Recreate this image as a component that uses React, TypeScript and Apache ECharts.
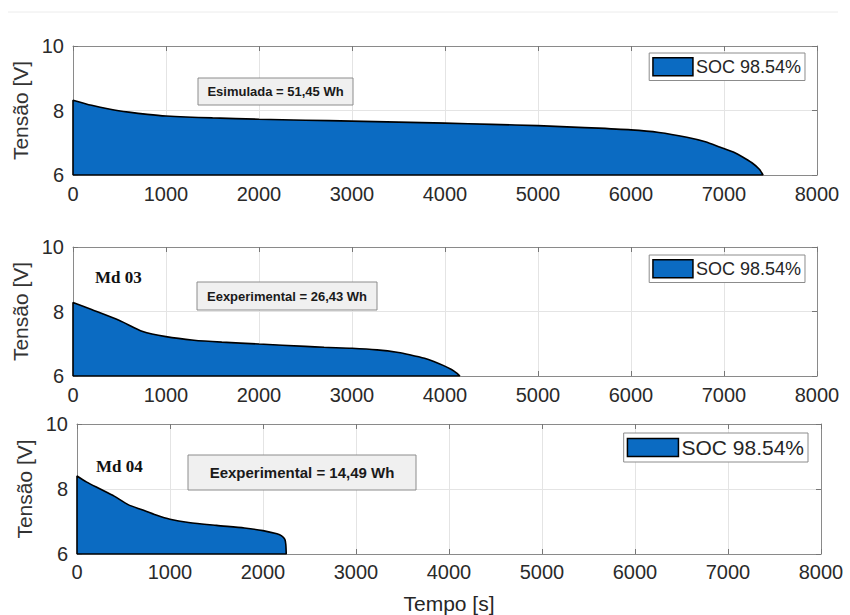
import React, { useEffect, useRef } from "react";
import * as echarts from "echarts";

const LEGEND_NAME = "SOC 98.54%";
const Y_NAME = "Tensão [V]";
const X_NAME = "Tempo [s]";

// Panel 1 – simulated discharge
const sim1X = [0, 0, 200, 400, 600, 800, 1000, 1500, 2000, 2500, 3000, 3500, 4000, 4500, 5000, 5500, 6000, 6300, 6600, 6800, 6960, 7100, 7200, 7300, 7380, 7420, 0];
const sim1Y = [6, 8.32, 8.16, 8.04, 7.95, 7.88, 7.83, 7.77, 7.73, 7.7, 7.67, 7.64, 7.61, 7.57, 7.53, 7.47, 7.4, 7.32, 7.17, 7.03, 6.86, 6.71, 6.56, 6.38, 6.18, 6.0, 6];

// Panel 2 – Md 03
const md03X = [0, 0, 200, 500, 750, 1000, 1300, 1600, 2000, 2500, 2700, 3000, 3270, 3500, 3620, 3780, 3880, 3980, 4070, 4130, 4160, 0];
const md03Y = [6, 8.28, 8.06, 7.72, 7.38, 7.22, 7.11, 7.05, 6.99, 6.92, 6.89, 6.86, 6.81, 6.73, 6.66, 6.55, 6.45, 6.33, 6.2, 6.08, 6.0, 6];

// Panel 3 – Md 04
const md04X = [0, 0, 100, 250, 400, 550, 700, 850, 1000, 1200, 1500, 1800, 2000, 2150, 2200, 2235, 2245, 2250, 0];
const md04Y = [6, 8.4, 8.22, 8.0, 7.78, 7.52, 7.36, 7.2, 7.07, 6.97, 6.88, 6.8, 6.72, 6.62, 6.56, 6.45, 6.3, 6.0, 6];

const annotations = ["Esimulada = 51,45 Wh", "Eexperimental = 26,43 Wh", "Eexperimental = 14,49 Wh"];
const panelLabels = ["", "Md 03", "Md 04"];

const X_MIN = 0, X_MAX = 8000, X_STEP = 1000;
const Y_MIN = 6, Y_MAX = 10, Y_STEP = 2;

const FILL = "#0b6bc2";
const FONT = "Liberation Sans, Arial, sans-serif";

const zip = (xs: number[], ys: number[]) => xs.map((x, i) => [x, ys[i]]);

export default function App() {
  const ref = useRef<HTMLDivElement>(null);
  useEffect(() => {
    if (!ref.current) return;
    const chart = echarts.init(ref.current, null, { renderer: "svg" });

    const grids = [
      { left: 73, right: 33, top: 46, height: 129 },
      { left: 73, right: 33, top: 247, height: 129 },
      { left: 77, right: 29, top: 424, height: 130 },
    ];
    const datasets = [zip(sim1X, sim1Y), zip(md03X, md03Y), zip(md04X, md04Y)];

    const axisLineStyle = { lineStyle: { color: "#8a8a8a", width: 1 } };
    const tickStyle = { inside: true, length: 5, lineStyle: { color: "#777" } };
    const labelStyle = { fontSize: 20, color: "#2a2a2a", fontFamily: FONT };

    const xAxes: any[] = [];
    const yAxes: any[] = [];
    grids.forEach((_, i) => {
      xAxes.push({
        type: "value", gridIndex: i, min: X_MIN, max: X_MAX, interval: X_STEP,
        position: "bottom",
        axisLine: { show: true, onZero: false, ...axisLineStyle },
        axisTick: tickStyle,
        axisLabel: { ...labelStyle, margin: i === 2 ? 8 : 9, formatter: (v: number) => String(v) },
        splitLine: { show: true, lineStyle: { color: "#e4e4e4" } },
        name: i === 2 ? X_NAME : "",
        nameLocation: "middle", nameGap: 39,
        nameTextStyle: { fontSize: 21, color: "#262626", fontFamily: FONT },
      });
      yAxes.push({
        type: "value", gridIndex: i, min: Y_MIN, max: Y_MAX, interval: Y_STEP,
        position: "left",
        axisLine: { show: true, onZero: false, ...axisLineStyle },
        axisTick: tickStyle,
        axisLabel: { ...labelStyle, margin: 9, formatter: (v: number) => String(v) },
        splitLine: { show: true, lineStyle: { color: "#e4e4e4" } },
        name: Y_NAME, nameLocation: "middle", nameGap: 37,
        nameTextStyle: { fontSize: 21, color: "#333", fontFamily: FONT },
      });
    });
    grids.forEach((_, i) => {
      xAxes.push({
        type: "value", gridIndex: i, min: X_MIN, max: X_MAX, interval: X_STEP,
        position: "top",
        axisLine: { show: true, onZero: false, ...axisLineStyle },
        axisTick: tickStyle, axisLabel: { show: false }, splitLine: { show: false },
      });
      yAxes.push({
        type: "value", gridIndex: i, min: Y_MIN, max: Y_MAX, interval: Y_STEP,
        position: "right",
        axisLine: { show: true, onZero: false, ...axisLineStyle },
        axisTick: tickStyle, axisLabel: { show: false }, splitLine: { show: false },
      });
    });

    const series = datasets.map((d, i) => ({
      type: "line", name: LEGEND_NAME, xAxisIndex: i, yAxisIndex: i,
      data: d, showSymbol: false, symbol: "none", smooth: 0.25,
      color: FILL,
      itemStyle: { color: FILL },
      lineStyle: { color: "#000", width: 1.6 },
      areaStyle: { color: FILL, opacity: 1, origin: "start" },
      z: 3,
    }));

    const legendTops = [53, 255, 433];
    const legendRights = [45, 45, 42];
    const legendFont = [18, 18, 21];
    const legendSwatch = [40, 40, 51];
    const legend = legendTops.map((t, i) => ({
      top: t, right: legendRights[i], orient: "horizontal",
      data: [LEGEND_NAME], icon: "rect",
      itemWidth: legendSwatch[i], itemHeight: 18, itemGap: 4,
      padding: [4, 4, 4, 3],
      backgroundColor: "#fff", borderColor: "#8c8c8c", borderWidth: 1,
      itemStyle: { color: FILL, borderColor: "#000", borderWidth: 1.5 },
      textStyle: { fontSize: legendFont[i], color: "#262626", fontFamily: FONT, padding: [0, 0, 0, -2] },
      selectedMode: false,
    }));

    const boxes = [
      { x: 198, y: 78, w: 155, h: 27, fs: 13 },
      { x: 197, y: 282, w: 180, h: 28, fs: 13 },
      { x: 188, y: 455, w: 228, h: 35, fs: 15 },
    ];
    const labelPos = [null, { x: 95, y: 277 }, { x: 96, y: 466 }];

    const graphic: any[] = [
      { type: "line", shape: { x1: 8, y1: 12, x2: 838, y2: 12 }, style: { stroke: "#ececec", lineWidth: 1 }, silent: true },
    ];
    boxes.forEach((b, i) => {
      graphic.push({
        type: "rect", shape: { x: b.x, y: b.y, width: b.w, height: b.h },
        style: { fill: "#f0f0f0", stroke: "#8c8c8c", lineWidth: 1 }, z: 10,
      });
      graphic.push({
        type: "text", x: b.x + b.w / 2, y: b.y + b.h / 2,
        style: { text: annotations[i], fontSize: b.fs, fontWeight: "bold", fontFamily: FONT, fill: "#1a1a1a", textAlign: "center", textVerticalAlign: "middle" },
        z: 11,
      });
      const lp = labelPos[i];
      if (lp && panelLabels[i]) {
        graphic.push({
          type: "text", x: lp.x, y: lp.y,
          style: { text: panelLabels[i], fontSize: 17, fontWeight: "bold", fontFamily: "Liberation Serif, Times New Roman, serif", fill: "#111", textAlign: "left", textVerticalAlign: "middle" },
          z: 11,
        });
      }
    });

    chart.setOption({
      animation: false,
      backgroundColor: "#fff",
      grid: grids.map((g) => ({ ...g, show: false })),
      xAxis: xAxes,
      yAxis: yAxes,
      legend,
      series,
      graphic,
    });
    return () => chart.dispose();
  }, []);

  return <div ref={ref} style={{ position: "absolute", left: 0, top: 0, width: 850, height: 615 }} />;
}
